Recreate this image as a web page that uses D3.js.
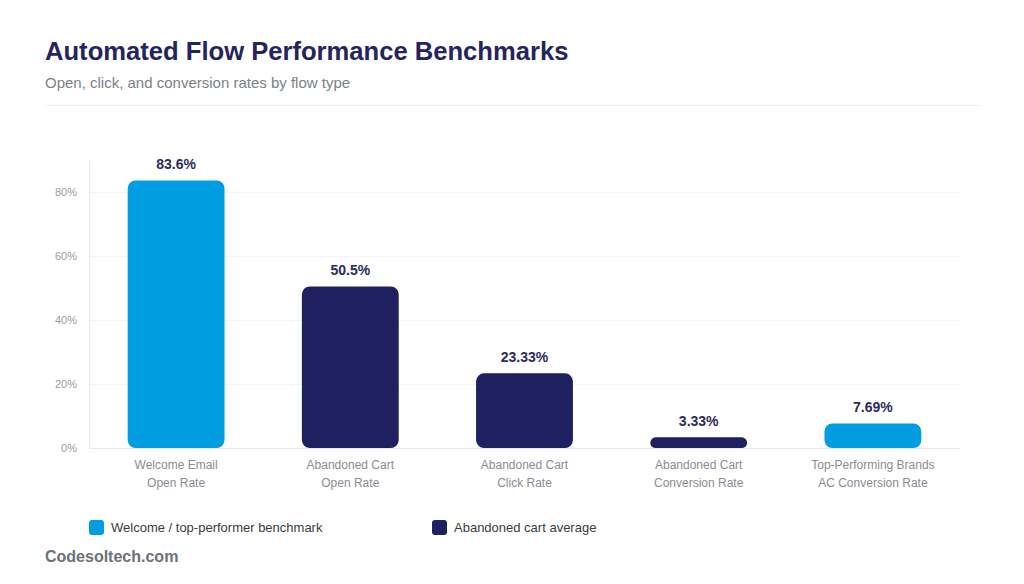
<!DOCTYPE html>
<html>
<head>
<meta charset="utf-8">
<script src="https://cdn.jsdelivr.net/npm/d3@7"></script>
<style>
  body { margin: 0; background: #fff; }
  svg { font-family: "Liberation Sans", Arial, sans-serif; display: block; }
</style>
</head>
<body>
<div id="chart"></div>
<script>
const categories = [
  ["Welcome Email", "Open Rate"],
  ["Abandoned Cart", "Open Rate"],
  ["Abandoned Cart", "Click Rate"],
  ["Abandoned Cart", "Conversion Rate"],
  ["Top-Performing Brands", "AC Conversion Rate"]
];
const values = [83.6, 50.5, 23.33, 3.33, 7.69];
const valueLabels = ["83.6%", "50.5%", "23.33%", "3.33%", "7.69%"];
const groups = ["bench", "cart", "cart", "cart", "bench"];
const yTicks = [0, 20, 40, 60, 80];
const legendItems = [
  { key: "bench", label: "Welcome / top-performer benchmark" },
  { key: "cart", label: "Abandoned cart average" }
];

const W = 1024, H = 584;
const margin = { top: 160, right: 64, bottom: 136, left: 89 };
const width = W - margin.left - margin.right;
const height = H - margin.top - margin.bottom;

const color = d3.scaleOrdinal().domain(["bench", "cart"]).range(["#009ee0", "#1f2060"]);

const svg = d3.select("#chart").append("svg")
  .attr("width", W)
  .attr("height", H);

// header
svg.append("text")
  .attr("x", 45).attr("y", 60)
  .attr("font-size", 25.6).attr("font-weight", "bold")
  .attr("fill", "#25245e")
  .text("Automated Flow Performance Benchmarks");

svg.append("text")
  .attr("x", 45).attr("y", 88)
  .attr("font-size", 15)
  .attr("fill", "#7b7f88")
  .text("Open, click, and conversion rates by flow type");

svg.append("line")
  .attr("x1", 45).attr("x2", 980)
  .attr("y1", 105.5).attr("y2", 105.5)
  .attr("stroke", "#eeeff2");

const g = svg.append("g")
  .attr("transform", `translate(${margin.left}, ${margin.top})`);

const x = d3.scaleBand()
  .domain(d3.range(values.length))
  .range([0, width])
  .paddingInner(0.444)
  .paddingOuter(0.222);

const y = d3.scaleLinear().domain([0, 90]).range([height, 0]);

// grid
g.append("g")
  .selectAll("line")
  .data(yTicks.filter(d => d > 0))
  .join("line")
  .attr("x1", 0).attr("x2", width)
  .attr("y1", d => Math.round(y(d)) + 0.5)
  .attr("y2", d => Math.round(y(d)) + 0.5)
  .attr("stroke", "#f4f4f6");

// y axis
const gY = g.append("g")
  .call(d3.axisLeft(y).tickValues(yTicks).tickFormat(d => d + "%").tickSize(0).tickPadding(12));
gY.select(".domain").attr("stroke", "#e6e7ea");
gY.selectAll("text").attr("font-size", 11).attr("fill", "#9a9ca3")
  .attr("font-family", "Liberation Sans, Arial, sans-serif");

// x axis baseline
g.append("line")
  .attr("x1", 0).attr("x2", width)
  .attr("y1", height + 0.5).attr("y2", height + 0.5)
  .attr("stroke", "#e6e7ea");

// bars
g.append("g")
  .selectAll("rect")
  .data(values)
  .join("rect")
  .attr("x", (d, i) => x(i))
  .attr("width", x.bandwidth())
  .attr("y", d => y(d))
  .attr("height", d => height - y(d))
  .attr("rx", d => Math.min(8, (height - y(d)) / 2))
  .attr("fill", (d, i) => color(groups[i]));

// value labels
g.append("g")
  .selectAll("text")
  .data(values)
  .join("text")
  .attr("x", (d, i) => x(i) + x.bandwidth() / 2)
  .attr("y", d => y(d) - 11)
  .attr("text-anchor", "middle")
  .attr("font-size", 14).attr("font-weight", "bold")
  .attr("fill", "#2b2b5c")
  .text((d, i) => valueLabels[i]);

// category labels
const cat = g.append("g")
  .selectAll("text")
  .data(categories)
  .join("text")
  .attr("x", (d, i) => x(i) + x.bandwidth() / 2)
  .attr("y", height + 21)
  .attr("text-anchor", "middle")
  .attr("font-size", 12)
  .attr("fill", "#8a8c93");
cat.selectAll("tspan")
  .data(d => d)
  .join("tspan")
  .attr("x", function () { return this.parentNode.getAttribute("x"); })
  .attr("dy", (d, i) => i === 0 ? 0 : 18)
  .text(d => d);

// legend
const legendX = [89, 432];
const leg = svg.append("g")
  .selectAll("g")
  .data(legendItems)
  .join("g")
  .attr("transform", (d, i) => `translate(${legendX[i]}, 520)`);
leg.append("rect")
  .attr("width", 15).attr("height", 15).attr("rx", 3)
  .attr("fill", d => color(d.key));
leg.append("text")
  .attr("x", 22).attr("y", 12)
  .attr("font-size", 13)
  .attr("fill", "#3a3b40")
  .text(d => d.label);

// footer
svg.append("text")
  .attr("x", 45).attr("y", 562)
  .attr("font-size", 16).attr("font-weight", "bold")
  .attr("fill", "#6d717a")
  .text("Codesoltech.com");
</script>
</body>
</html>
